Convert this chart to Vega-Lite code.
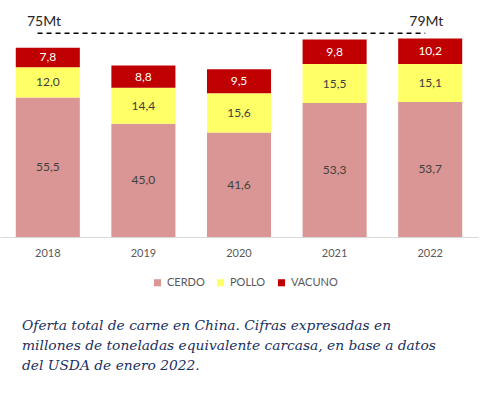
{
  "$schema": "https://vega.github.io/schema/vega-lite/v6.json",
  "width": 478,
  "height": 237,
  "autosize": {"type": "none"},
  "padding": {"left": 0, "top": 0, "right": 22, "bottom": 159},
  "config": {
    "view": {"stroke": null},
    "font": "Lato",
    "locale": {"number": {"decimal": ",", "thousands": ".", "grouping": [3], "currency": ["", "€"]}}
  },
  "title": {
    "text": ["Oferta total de carne en China. Cifras expresadas en", "millones de toneladas equivalente carcasa, en base a datos", "del USDA de enero 2022."],
    "orient": "bottom",
    "anchor": "start",
    "frame": "group",
    "dx": 22,
    "offset": 31,
    "font": "DejaVu Serif",
    "fontStyle": "italic",
    "fontWeight": "normal",
    "fontSize": 13.8,
    "lineHeight": 20,
    "color": "#1a3060"
  },
  "datasets": {
    "meat": [
      {"year": "2018", "tipo": "CERDO", "value": 55.5},
      {"year": "2018", "tipo": "POLLO", "value": 12.0},
      {"year": "2018", "tipo": "VACUNO", "value": 7.8},
      {"year": "2019", "tipo": "CERDO", "value": 45.0},
      {"year": "2019", "tipo": "POLLO", "value": 14.4},
      {"year": "2019", "tipo": "VACUNO", "value": 8.8},
      {"year": "2020", "tipo": "CERDO", "value": 41.6},
      {"year": "2020", "tipo": "POLLO", "value": 15.6},
      {"year": "2020", "tipo": "VACUNO", "value": 9.5},
      {"year": "2021", "tipo": "CERDO", "value": 53.3},
      {"year": "2021", "tipo": "POLLO", "value": 15.5},
      {"year": "2021", "tipo": "VACUNO", "value": 9.8},
      {"year": "2022", "tipo": "CERDO", "value": 53.7},
      {"year": "2022", "tipo": "POLLO", "value": 15.1},
      {"year": "2022", "tipo": "VACUNO", "value": 10.2}
    ]
  },
  "layer": [
    {
      "data": {"name": "meat"},
      "mark": {"type": "bar"},
      "encoding": {
        "x": {
          "field": "year", "type": "nominal",
          "scale": {"paddingInner": 0.33, "paddingOuter": 0.165},
          "axis": {"title": null, "labelAngle": 0, "ticks": false, "domainColor": "#d9d9d9", "domainWidth": 1, "labelColor": "#595959", "labelFontSize": 11, "labelPadding": 10, "labelFont": "Lato"}
        },
        "y": {
          "field": "value", "type": "quantitative", "stack": "zero",
          "scale": {"domain": [0, 94.27], "nice": false, "zero": true},
          "axis": null
        },
        "order": {"field": "tipo", "sort": "ascending"},
        "color": {
          "field": "tipo", "type": "nominal",
          "scale": {"domain": ["CERDO", "POLLO", "VACUNO"], "range": ["#d99694", "#ffff66", "#c00000"]},
          "legend": {
            "title": null, "orient": "none", "legendX": 152, "legendY": 277,
            "direction": "horizontal", "symbolType": "square", "symbolSize": 50,
            "symbolStrokeWidth": 0, "labelFontSize": 11, "labelColor": "#595959",
            "labelFont": "Lato", "columnPadding": 10, "labelOffset": 4
          }
        }
      }
    },
    {
      "data": {"name": "meat"},
      "mark": {"type": "text", "fontSize": 12, "font": "Lato"},
      "encoding": {
        "x": {"field": "year", "type": "nominal"},
        "y": {"field": "value", "type": "quantitative", "stack": "zero", "bandPosition": 0.5},
        "detail": {"field": "tipo"},
        "order": {"field": "tipo", "sort": "ascending"},
        "text": {"field": "value", "type": "quantitative", "format": ".1f"},
        "color": {"condition": {"test": "datum.tipo === 'VACUNO'", "value": "#ffffff"}, "value": "#404040"}
      }
    },
    {
      "data": {"values": [{"a": "2018", "b": "2022", "level": 81}]},
      "mark": {"type": "rule", "strokeDash": [5, 4], "strokeWidth": 1.5, "color": "#000000", "x2Offset": -5},
      "encoding": {
        "x": {"field": "a", "type": "nominal", "bandPosition": 0.34},
        "x2": {"field": "b"},
        "y": {"field": "level", "type": "quantitative"}
      }
    },
    {
      "data": {"values": [{"year": "2018", "label": "75Mt", "level": 85.5}, {"year": "2022", "label": "79Mt", "level": 85.5}]},
      "mark": {"type": "text", "fontSize": 14, "font": "Lato", "color": "#262626", "baseline": "middle"},
      "encoding": {
        "x": {"field": "year", "type": "nominal", "bandPosition": 0.44},
        "y": {"field": "level", "type": "quantitative"},
        "text": {"field": "label"}
      }
    }
  ]
}
